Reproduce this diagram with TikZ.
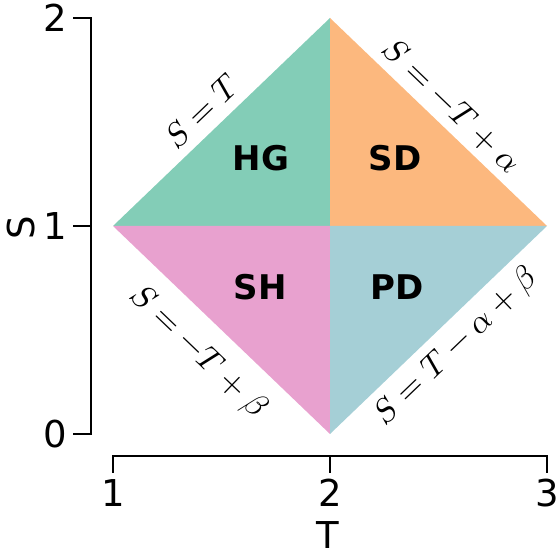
\documentclass[tikz,border=0pt]{standalone}
\usepackage{fontspec}
\usepackage{unicode-math}
\setmainfont{DejaVu Sans}
\setmathfont{Latin Modern Math}
\definecolor{cHG}{HTML}{83CDB7}
\definecolor{cSD}{HTML}{FCB87E}
\definecolor{cSH}{HTML}{E8A1CF}
\definecolor{cPD}{HTML}{A5CFD6}
\tikzset{
  axisline/.style={line width=2.4pt, line cap=butt, line join=miter},
  ticklab/.style={font=\fontsize{37}{40}\selectfont, inner sep=0pt},
  region/.style={font=\fontsize{34}{36}\selectfont\bfseries, inner sep=0pt},
  eqlab/.style={font=\fontsize{33}{36}\selectfont, inner sep=0pt},
}
\begin{document}
\begin{tikzpicture}[x=1pt,y=1pt]
\useasboundingbox (0,0) rectangle (558,553);
% diamond vertices
\coordinate (L) at (113,327);
\coordinate (Tp) at (330,535);
\coordinate (R) at (547,327);
\coordinate (B) at (330,119);
\coordinate (C) at (330,327);
\fill[cHG] (L) -- (Tp) -- (C) -- cycle;
\fill[cSD] (C) -- (Tp) -- (R) -- cycle;
\fill[cSH] (L) -- (C) -- (B) -- cycle;
\fill[cPD] (C) -- (R) -- (B) -- cycle;
% region labels
\node[region] (hg) at (261,395) {HG};
\node[region] (sd) at (395,395) {SD};
\node[region] (sh) at (260,266) {SH};
\node[region] (pd) at (397,266) {PD};
% edge equations
\node[eqlab, rotate=43.8] (e1) at (202,442) {$S=T$};
\node[eqlab, rotate=-43.8] (e2) at (452,447) {$S=-T+\alpha$};
\node[eqlab, rotate=-43.8] (e3) at (198,201) {$S=-T+\beta$};
\node[eqlab, rotate=43.8] (e4) at (456,206) {$S=T-\alpha+\beta$};
% S axis
\coordinate (s0) at (91,119);
\coordinate (s1) at (91,327);
\coordinate (s2) at (91,535);
\draw[axisline] (73,535) -- (s2) -- (s0) -- (73,119);
\draw[axisline] (73,327) -- (s1);
\node[ticklab, anchor=east] (l2) at (67,535) {2};
\node[ticklab, anchor=east] (l1) at (67,327) {1};
\node[ticklab, anchor=east] (l0) at (67,119) {0};
\node[ticklab, rotate=90] (sl) at (21,325) {S};
% T axis
\draw[axisline] (113,80) -- (113,97) -- (547,97) -- (547,80);
\draw[axisline] (330,97) -- (330,80);
\node[ticklab] (t1) at (113,60) {1};
\node[ticklab] (t2) at (330,60) {2};
\node[ticklab] (t3) at (547,60) {3};
\node[ticklab] (tl) at (328,18) {T};
\end{tikzpicture}
\end{document}
